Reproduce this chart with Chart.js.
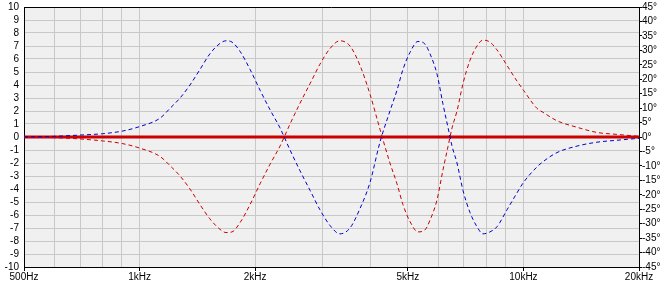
<!DOCTYPE html>
<html>
<head>
<meta charset="utf-8">
<script src="https://cdn.jsdelivr.net/npm/chart.js@4"></script>
<style>
	html, body { margin: 0; padding: 0; background: #fff; }
	#wrap { width: 671px; height: 284px; }
</style>
</head>
<body>
<div id="wrap"><canvas id="chart" width="671" height="284"></canvas></div>
<script>
// frequencies (Hz) the curves were read at
var freqs = [500, 600, 700, 800, 900, 1000, 1131, 1200, 1275, 1353, 1437, 1525, 1620, 1679, 1741, 1826, 1940,
	2060, 2187, 2322, 2466, 2618, 2780, 2951, 3133, 3327, 3533, 3752, 3983, 4229, 4490, 4684, 4855,
	5063, 5312, 5538, 5709, 5953, 6170, 6359, 6516, 6713, 6958, 7256, 7568, 7844, 8181, 8533, 9062,
	9621, 10000, 10847, 11245, 12227, 13786, 15544, 17526, 20000];

var blueVals = [0, 0.05, 0.15, 0.25, 0.45, 0.8, 1.45, 2.2, 3.0, 4.0, 5.2, 6.4, 7.2, 7.4, 7.3, 6.6, 5.2,
	3.6, 2.1, 0.7, -1.0, -2.6, -4.1, -5.6, -6.8, -7.45, -7.0, -5.5, -3.5, -0.4, 2.0, 3.6, 5.2,
	6.5, 7.35, 7.15, 6.4, 4.85, 2.55, 0.75, -0.7, -2.0, -4.1, -5.8, -6.9, -7.45, -7.3, -6.9, -5.6,
	-4.3, -3.5, -2.3, -1.9, -1.2, -0.7, -0.4, -0.25, -0.1];

var redVals = [0, -0.05, -0.15, -0.3, -0.5, -0.85, -1.5, -2.2, -3.0, -4.0, -5.2, -6.3, -7.1, -7.35, -7.3, -6.6, -5.2,
	-3.6, -2.1, -0.7, 1.0, 2.6, 4.1, 5.6, 6.8, 7.4, 7.0, 5.5, 3.3, 0.6, -2.0, -3.6, -5.2,
	-6.5, -7.3, -7.15, -6.4, -4.85, -2.55, -0.75, 0.7, 2.0, 4.1, 5.9, 7.0, 7.45, 7.3, 6.7, 5.5,
	4.3, 3.6, 2.2, 1.9, 1.25, 0.75, 0.35, 0.2, 0.05];

var zeroFreqs = [500, 20000];
var zeroVals = [0, 0];

// x grid positions and the labelled ones
var xGrid = [500, 600, 700, 800, 900, 1000, 2000, 3000, 4000, 5000, 6000, 7000, 8000, 9000, 10000, 20000];
var xLabels = {500: "500Hz", 1000: "1kHz", 2000: "2kHz", 5000: "5kHz", 10000: "10kHz", 20000: "20kHz"};

function toPoints(xs, ys) {
	var pts = [];
	for (var i = 0; i < xs.length; i++) pts.push({x: xs[i], y: ys[i]});
	return pts;
}

// fixed box sizes so the plot area lands where the original one is
function fixBox(w, h) {
	return function(scale) {
		if (w) scale.width = w;
		if (h) scale.height = h;
		scale.paddingTop = 0;
		scale.paddingBottom = 0;
		scale.paddingLeft = 0;
		scale.paddingRight = 0;
	};
}

var plotBg = {
	id: "plotBg",
	beforeDraw: function(chart) {
		var a = chart.chartArea, ctx = chart.ctx;
		ctx.save();
		ctx.fillStyle = "#f0f0f0";
		ctx.fillRect(a.left, a.top, a.right - a.left, a.bottom - a.top);
		ctx.restore();
	},
	afterDraw: function(chart) {
		var a = chart.chartArea, ctx = chart.ctx;
		ctx.save();
		ctx.strokeStyle = "#000";
		ctx.lineWidth = 1;
		ctx.beginPath();
		ctx.moveTo(a.left, Math.round(a.top) + 0.5);
		ctx.lineTo(a.right, Math.round(a.top) + 0.5);
		ctx.stroke();
		ctx.restore();
	}
};

var font = {family: "'Liberation Sans', Arial, sans-serif", size: 10};
var gridGray = "#c8c8c8";

new Chart(document.getElementById("chart"), {
	type: "line",
	data: {
		datasets: [
			{data: toPoints(freqs, blueVals), borderColor: "#0000cc", borderWidth: 1, borderDash: [4, 3],
				pointRadius: 0, cubicInterpolationMode: "monotone", yAxisID: "y"},
			{data: toPoints(freqs, redVals), borderColor: "#cc0000", borderWidth: 1, borderDash: [4, 3],
				pointRadius: 0, cubicInterpolationMode: "monotone", yAxisID: "y"},
			{data: toPoints(zeroFreqs, zeroVals), borderColor: "#cc0000", borderWidth: 3,
				pointRadius: 0, yAxisID: "y"}
		]
	},
	options: {
		responsive: false,
		animation: false,
		events: [],
		layout: {padding: {top: 7, left: 0, right: 0, bottom: 0}},
		plugins: {legend: {display: false}, tooltip: {enabled: false}},
		scales: {
			x: {
				type: "logarithmic",
				min: 500,
				max: 20000,
				afterBuildTicks: function(scale) {
					scale.ticks = xGrid.map(function(v) { return {value: v}; });
				},
				afterFit: fixBox(0, 17),
				ticks: {
					autoSkip: false, maxRotation: 0, padding: 0, color: "#000", font: font,
					callback: function(v) { return xLabels[v] || ""; }
				},
				grid: {
					color: gridGray,
					tickLength: 4,
					tickColor: function(ctx) { return xLabels[ctx.tick.value] ? "#000" : "rgba(0,0,0,0)"; }
				},
				border: {color: "#000"}
			},
			y: {
				position: "left",
				min: -10,
				max: 10,
				afterFit: fixBox(24, 0),
				ticks: {stepSize: 1, autoSkip: false, padding: 5, color: "#000", font: font},
				grid: {color: gridGray, drawTicks: false},
				border: {color: "#000"}
			},
			y2: {
				position: "right",
				min: -45,
				max: 45,
				afterFit: fixBox(32, 0),
				ticks: {stepSize: 5, autoSkip: false, padding: 0, color: "#000", font: font,
					callback: function(v) { return v + "°"; }},
				grid: {drawOnChartArea: false, tickLength: 3, tickColor: "#000"},
				border: {color: "#000"}
			}
		}
	},
	plugins: [plotBg]
});
</script>
</body>
</html>
